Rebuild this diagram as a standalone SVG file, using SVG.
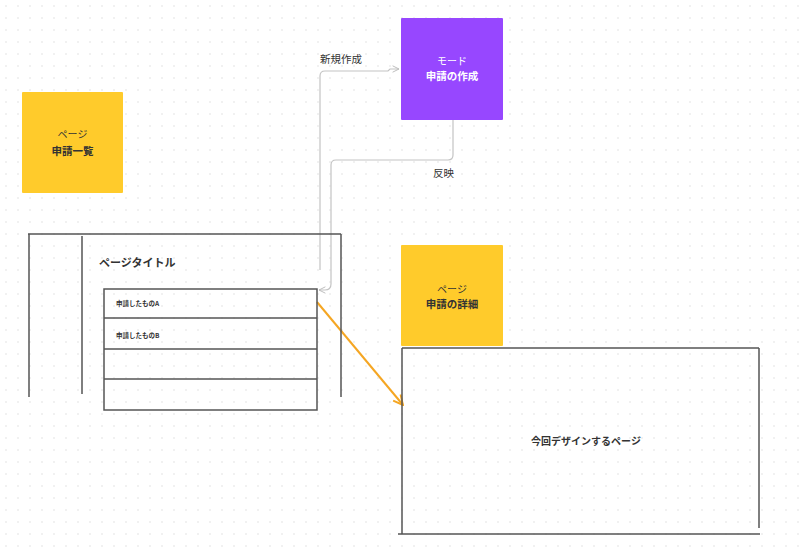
<svg xmlns="http://www.w3.org/2000/svg" width="800" height="551" viewBox="0 0 800 551">
<defs>
<pattern id="dots" x="0" y="0" width="12" height="12" patternUnits="userSpaceOnUse">
<circle cx="6" cy="6" r="0.7" fill="#d8d8d8"/>
</pattern>
<marker id="ag" viewBox="0 0 10 10" refX="9" refY="5" markerWidth="8" markerHeight="8" orient="auto" markerUnits="userSpaceOnUse">
<path d="M1,1 L9,5 L1,9" fill="none" stroke="#bbbbbb" stroke-width="1.2"/>
</marker>
<marker id="ao" viewBox="0 0 10 10" refX="9" refY="5" markerWidth="12" markerHeight="12" orient="auto" markerUnits="userSpaceOnUse">
<path d="M1,1 L9,5 L1,9" fill="none" stroke="#F5A623" stroke-width="1.6"/>
</marker>
</defs>
<style>
text{font-family:"Noto Sans CJK JP","Noto Sans",sans-serif;fill:#333}
.b{font-weight:bold}
.w{fill:#ffffff}
.wl{stroke:#555;stroke-width:1.5;fill:none}
.cn{stroke:#c4c4c4;stroke-width:1.2;fill:none}
</style>
<rect width="800" height="551" fill="#ffffff"/>
<rect width="800" height="551" fill="url(#dots)"/>

<g id="connectors">
<path class="cn" d="M320,270 L320,76 Q320,71 325,71 L388,71 L390,69 L399,69" marker-end="url(#ag)"/>
<path class="cn" d="M453,120 L453,155 Q453,160 448,160 L336,160 Q331,160 331,165 L331,284 Q331,290 325,290 L319,290" marker-end="url(#ag)"/>
<line x1="317" y1="302" x2="403" y2="405" stroke="#F5A623" stroke-width="2" marker-end="url(#ao)"/>
<text x="320" y="63" font-size="10.5">新規作成</text>
<text x="433" y="177" font-size="10.5">反映</text>
</g>

<g id="page-list">
<rect x="22" y="92" width="101" height="101" fill="#FFCB2B" rx="1"/>
<text x="72.5" y="138" font-size="10" text-anchor="middle">ページ</text>
<text x="72.5" y="155" font-size="10.5" text-anchor="middle" class="b">申請一覧</text>
</g>

<g id="mode-create">
<rect x="401" y="18" width="102" height="102" fill="#9747FF" rx="1"/>
<text x="452" y="65" font-size="10" text-anchor="middle" class="w">モード</text>
<text x="452" y="80" font-size="10.5" text-anchor="middle" class="b w">申請の作成</text>
</g>

<g id="page-detail">
<rect x="401" y="245" width="102" height="101" fill="#FFCB2B" rx="1"/>
<text x="452" y="293" font-size="10" text-anchor="middle">ページ</text>
<text x="452" y="308" font-size="10.5" text-anchor="middle" class="b">申請の詳細</text>
</g>

<g id="wireframe-list">
<path class="wl" d="M28,234 L341,234 M29,234 L29,397 M82,236 L82,394 M341,234 L341,397"/>
<text x="99" y="267" font-size="11" class="b">ページタイトル</text>
<rect class="wl" x="104" y="289" width="213" height="121"/>
<path class="wl" d="M104,318 L317,318 M104,349 L317,349 M104,379 L317,379"/>
<text x="116" y="306" font-size="6.5" class="b">申請したものA</text>
<text x="116" y="338" font-size="6.5" class="b">申請したものB</text>
</g>

<g id="design-page">
<path class="wl" d="M402,348 L759,348 M402,348 L402,534 M398,534 L760,534 M759,348 L759,528"/>
<text x="586" y="445" font-size="10" text-anchor="middle" class="b">今回デザインするページ</text>
</g>
</svg>
